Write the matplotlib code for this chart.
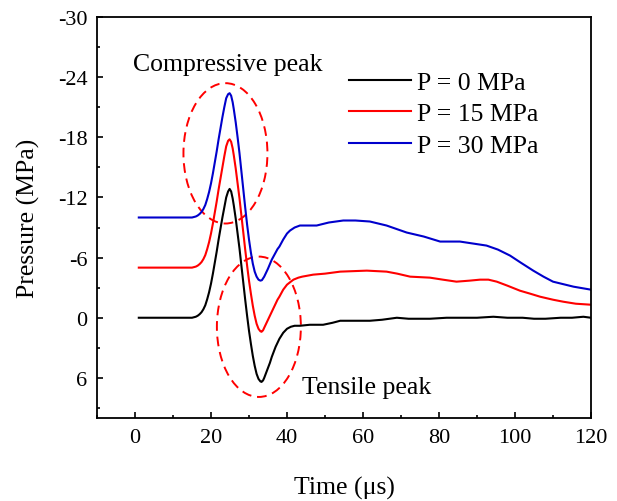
import matplotlib
matplotlib.use('Agg')
import matplotlib.pyplot as plt
from matplotlib.patches import Ellipse
from matplotlib.ticker import MultipleLocator

# ─── data ──────────────────────────────────────────────────
t_0 = [1, 5, 10, 14, 15, 15.5, 16, 16.5, 17, 17.5, 18, 18.5, 19, 19.5, 20,
       20.5, 21, 21.5, 22, 22.5, 23, 23.5, 24, 24.5, 24.9, 25.3, 25.7, 26,
       26.5, 27, 27.5, 28, 28.5, 29, 29.5, 30, 30.5, 31, 31.5, 32, 32.5, 33,
       33.3, 33.7, 34, 34.5, 35, 35.5, 36, 36.5, 37, 37.5, 38, 38.5, 39, 39.5,
       40, 41, 42, 43.4, 46, 49.5, 52, 54, 58, 61.8, 65, 68.9, 72, 77.6, 82,
       86, 90, 94.3, 98, 102, 105, 108, 112, 115, 118, 120]
p_0 = [0, 0, 0, 0, 0, -0.05, -0.1, -0.2, -0.35, -0.55, -0.85, -1.25, -1.85,
       -2.55, -3.4, -4.4, -5.5, -6.6, -7.8, -8.9, -10.0, -11.0, -12.0, -12.6,
       -12.85, -12.6, -11.9, -11.2, -9.9, -8.4, -6.9, -5.2, -3.5, -1.8, -0.2,
       1.3, 2.6, 3.8, 4.8, 5.6, 6.1, 6.35, 6.4, 6.25, 6.0, 5.5, 5.0, 4.5, 3.9,
       3.4, 2.9, 2.5, 2.1, 1.8, 1.5, 1.3, 1.1, 0.9, 0.8, 0.8, 0.7, 0.7, 0.5,
       0.3, 0.3, 0.3, 0.2, 0.0, 0.1, 0.1, 0.0, 0.0, 0.0, -0.1, 0.0, 0.0, 0.1,
       0.1, 0.0, 0.0, -0.1, 0.0]

t_15 = [1, 5, 10, 14, 15, 15.5, 16, 16.5, 17, 17.5, 18, 18.5, 19, 19.5, 20,
        20.5, 21, 21.5, 22, 22.5, 23, 23.5, 24, 24.5, 24.9, 25.3, 25.7, 26,
        26.5, 27, 27.5, 28, 28.5, 29, 29.5, 30, 30.5, 31, 31.5, 32, 32.5, 33,
        33.3, 33.7, 34, 34.5, 35, 35.5, 36, 36.5, 37, 37.5, 38, 38.5, 39, 39.5,
        40, 41, 41.7, 43, 44, 46.9, 50, 54, 61, 66.2, 69, 72.4, 77.6, 81, 84.6,
        88, 90.8, 93, 95.2, 98, 101.3, 104, 106.6, 110, 112.7, 116, 120]
p_15 = [-5, -5, -5, -5, -5, -5.05, -5.1, -5.2, -5.35, -5.55, -5.85, -6.25,
        -6.85, -7.55, -8.4, -9.4, -10.5, -11.6, -12.8, -13.9, -15.0, -16.1,
        -17.1, -17.65, -17.8, -17.55, -16.9, -16.2, -14.9, -13.4, -11.9, -10.2,
        -8.5, -6.8, -5.2, -3.7, -2.4, -1.2, -0.2, 0.6, 1.1, 1.35, 1.4, 1.25,
        1.0, 0.6, 0.2, -0.2, -0.6, -1.0, -1.4, -1.8, -2.1, -2.45, -2.8, -3.05,
        -3.3, -3.6, -3.8, -4.0, -4.1, -4.3, -4.4, -4.6, -4.7, -4.6, -4.4, -4.1,
        -4.0, -3.8, -3.6, -3.7, -3.8, -3.8, -3.6, -3.2, -2.7, -2.4, -2.1, -1.8,
        -1.6, -1.4, -1.3]

t_30 = [1, 5, 10, 14, 15, 15.5, 16, 16.5, 17, 17.5, 18, 18.5, 19, 19.5, 20,
        20.5, 21, 21.5, 22, 22.5, 23, 23.5, 24, 24.5, 24.9, 25.3, 25.7, 26,
        26.5, 27, 27.5, 28, 28.5, 29, 29.5, 30, 30.5, 31, 31.5, 32, 32.5, 33,
        33.4, 34, 34.5, 35, 35.5, 36, 36.5, 37, 37.5, 38, 38.5, 39, 39.5, 40,
        40.8, 42, 43.4, 47.8, 51, 54.8, 58, 61.8, 66.2, 71.5, 76, 80.3, 85.5,
        92.5, 95.5, 98.7, 101.5, 104.8, 107.5, 110, 115.4, 120]
p_30 = [-10, -10, -10, -10, -10, -10.05, -10.1, -10.2, -10.35, -10.55, -10.85,
        -11.25, -11.85, -12.55, -13.4, -14.4, -15.5, -16.6, -17.8, -18.9,
        -20.0, -21.0, -21.9, -22.3, -22.4, -22.15, -21.5, -20.8, -19.5, -18.0,
        -16.4, -14.6, -12.8, -11.0, -9.3, -7.8, -6.5, -5.4, -4.6, -4.1, -3.8,
        -3.7, -3.75, -4.1, -4.5, -4.9, -5.35, -5.8, -6.15, -6.5, -6.85, -7.1,
        -7.45, -7.8, -8.1, -8.4, -8.7, -9.0, -9.2, -9.2, -9.5, -9.7, -9.7, -9.6,
        -9.2, -8.5, -8.1, -7.6, -7.6, -7.2, -6.8, -6.2, -5.5, -4.7, -4.1, -3.6,
        -3.1, -2.8]

labels = ['P = 0 MPa', 'P = 15 MPa', 'P = 30 MPa']
colors = ['black', '#ff0000', '#0000cc']

plt.rcParams['font.family'] = ['Liberation Serif', 'DejaVu Serif']
plt.rcParams['axes.unicode_minus'] = False

fig = plt.figure(figsize=(6.17, 5.02), dpi=100)
ax = fig.add_axes([97 / 617, 83 / 502, 494 / 617, 401 / 502])

for t, p, lab, c in zip([t_0, t_15, t_30], [p_0, p_15, p_30], labels, colors):
    ax.plot(t, p, color=c, lw=1.5, label=lab)

# dashed ellipses round the peaks
ell_kw = dict(fill=False, edgecolor='#ff0000', lw=1.4, linestyle=(0, (5, 3)))
ax.add_patch(Ellipse((23.8, -16.4), 22.1, 14.0, **ell_kw))
ax.add_patch(Ellipse((32.6, 0.9), 22.1, 14.0, **ell_kw))

ax.text(-0.5, -25.3, 'Compressive peak', fontsize=18.5, ha='left', va='center')
ax.text(44, 6.9, 'Tensile peak', fontsize=18.5, ha='left', va='center')

ax.set_xlim(-10, 120)
ax.set_ylim(10, -30)
ax.xaxis.set_minor_locator(MultipleLocator(10))
ax.yaxis.set_minor_locator(MultipleLocator(3))
ax.set_xticks(range(0, 121, 20))
ax.set_yticks(range(-30, 7, 6))
ax.tick_params(which='both', direction='in', top=False, right=False,
               labelsize=16, width=1.2)
ax.tick_params(which='major', length=4.5, pad=7)
ax.tick_params(which='minor', length=2.5)
for s in ax.spines.values():
    s.set_linewidth(1.3)

ax.set_xlabel('Time (μs)', fontsize=18.5, labelpad=21)
ax.set_ylabel('Pressure (MPa)', fontsize=18.5, labelpad=13)

ax.legend(loc='upper left', bbox_to_anchor=(0.51, 0.865), frameon=False,
          fontsize=18.5, handlelength=2.4, handletextpad=0.25,
          labelspacing=0.32, borderpad=0, borderaxespad=0)

fig.savefig('out.png', dpi=100)
